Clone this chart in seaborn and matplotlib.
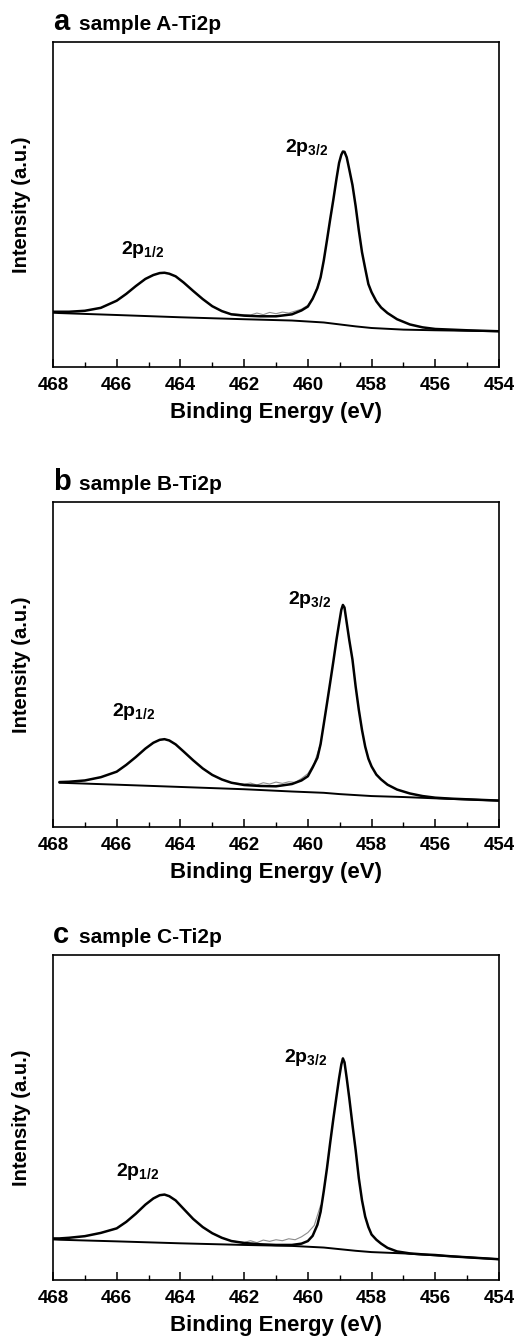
import numpy as np
import matplotlib
matplotlib.use('Agg')
import matplotlib.pyplot as plt
from matplotlib.ticker import MultipleLocator
import seaborn as sns

# --- values (intensity in % of axis height) ---
energy = [468.0, 467.8, 467.5, 467.0, 466.5, 466.0, 465.7, 465.4, 465.1, 464.85,
          464.65, 464.5, 464.35, 464.15, 463.9, 463.6, 463.3, 463.0, 462.7, 462.4,
          462.0, 461.5, 461.0, 460.5, 460.2, 460.0, 459.85, 459.7, 459.6, 459.5,
          459.4, 459.3, 459.2, 459.1, 459.02, 458.95, 458.9, 458.85, 458.78, 458.7,
          458.6, 458.5, 458.4, 458.3, 458.2, 458.1, 458.0, 457.85, 457.7, 457.5,
          457.2, 456.8, 456.4, 456.0, 455.5, 455.0, 454.5, 454.0]

fit_a = [17.0, 17.0, 17.0, 17.3, 18.2, 20.4, 22.5, 24.9, 27.1, 28.3,
         28.9, 29.0, 28.7, 27.9, 26.0, 23.4, 20.9, 18.7, 17.2, 16.2,
         15.8, 15.6, 15.6, 16.2, 17.4, 18.6, 21.0, 24.3, 27.6, 32.8,
         39.0, 45.4, 51.5, 58.0, 62.8, 65.3, 66.3, 66.2, 64.5, 60.8,
         56.0, 49.5, 42.0, 35.3, 30.3, 25.5, 23.0, 20.2, 18.3, 16.6,
         14.7, 13.1, 12.2, 11.7, 11.5, 11.3, 11.15, 11.0]

fit_b = [np.nan, 13.8, 13.9, 14.3, 15.3, 17.0, 19.1, 21.5, 24.1, 25.9,
         26.8, 27.0, 26.6, 25.4, 23.2, 20.5, 18.0, 16.0, 14.6, 13.6,
         12.9, 12.6, 12.5, 13.2, 14.3, 15.6, 18.3, 21.3, 25.5, 31.7,
         38.0, 44.4, 50.9, 57.7, 62.6, 66.8, 68.3, 67.5, 62.8, 57.5,
         51.5, 43.2, 36.0, 29.8, 24.7, 21.0, 18.6, 16.1, 14.6, 13.0,
         11.5, 10.3, 9.5, 9.0, 8.7, 8.5, 8.3, 8.1]

fit_c = [12.8, 12.8, 13.0, 13.5, 14.5, 15.9, 17.9, 20.4, 23.2, 25.1,
         26.1, 26.3, 25.8, 24.5, 21.9, 18.8, 16.3, 14.4, 13.0, 12.0,
         11.4, 11.0, 10.8, 10.8, 11.2, 12.0, 13.6, 17.0, 21.0, 27.4,
         34.4, 42.2, 49.6, 56.6, 62.1, 66.3, 68.2, 67.0, 62.1, 56.0,
         47.8, 40.0, 31.3, 24.5, 19.5, 16.3, 14.0, 12.4, 11.2, 9.9,
         8.8, 8.2, 7.9, 7.7, 7.3, 7.0, 6.7, 6.4]

bg_energy = [468.0, 467.8, 466.0, 464.0, 462.0, 460.5, 459.5, 459.0, 458.5, 458.0, 457.0, 456.0, 454.0]
bg_a = [16.7, 16.6, 16.0, 15.3, 14.7, 14.3, 13.7, 13.1, 12.5, 12.0, 11.5, 11.3, 11.0]
bg_b = [np.nan, 13.6, 13.0, 12.3, 11.6, 10.9, 10.5, 10.1, 9.8, 9.5, 9.2, 8.8, 8.1]
bg_c = [12.5, 12.4, 11.9, 11.3, 10.8, 10.5, 10.0, 9.5, 9.0, 8.6, 8.2, 7.6, 6.4]

# raw spectrum where it shows apart from the fit (valley between the peaks)
raw_energy = [462.4, 462.0, 461.8, 461.6, 461.4, 461.2, 461.0, 460.8, 460.6, 460.4, 460.2, 460.0, 459.8, 459.6]
raw_a = [16.4, 16.1, 16.0, 16.6, 16.1, 16.8, 16.4, 16.9, 16.6, 17.2, 17.8, 19.0, 22.0, 27.6]
raw_b = [13.6, 13.2, 13.5, 12.9, 13.6, 13.2, 13.8, 13.4, 13.9, 13.7, 14.9, 16.4, 19.6, 25.6]
raw_c = [12.0, 11.6, 12.1, 11.5, 12.3, 11.9, 12.4, 12.1, 12.7, 12.4, 13.3, 14.6, 16.8, 23.0]

letters = ['a', 'b', 'c']
titles = ['sample A-Ti2p', 'sample B-Ti2p', 'sample C-Ti2p']
x_ticks = [468, 466, 464, 462, 460, 458, 456, 454]

sns.set_style('white')
plt.rcParams['font.family'] = ['Liberation Sans', 'DejaVu Sans']
plt.rcParams['text.color'] = 'k'
plt.rcParams['axes.labelcolor'] = 'k'
plt.rcParams['xtick.color'] = 'k'
plt.rcParams['mathtext.fontset'] = 'custom'
plt.rcParams['mathtext.rm'] = 'Liberation Sans:bold'
plt.rcParams['mathtext.it'] = 'Liberation Sans:bold'
plt.rcParams['mathtext.bf'] = 'Liberation Sans:bold'

fig = plt.figure(figsize=(5.17, 13.37), dpi=100)

# panel layout: axes bottom, label positions (x in eV, y in %)
panels = [
    (0.7255, fit_a, bg_a, raw_a, (459.35, 67.5), (464.5, 36.0)),
    (0.3815, fit_b, bg_b, raw_b, (459.25, 70.0), (464.8, 35.5)),
    (0.0426, fit_c, bg_c, raw_c, (459.4, 68.5), (464.65, 33.4)),
]

for i, (bottom, fit, bg, raw, lab32, lab12) in enumerate(panels):
    ax = fig.add_axes([0.1025, bottom, 0.8627, 0.2431])

    sns.lineplot(x=raw_energy, y=raw, ax=ax, color='0.55', lw=0.8, estimator=None)
    sns.lineplot(x=bg_energy, y=bg, ax=ax, color='k', lw=1.4, estimator=None)
    sns.lineplot(x=energy, y=fit, ax=ax, color='k', lw=1.8, estimator=None)

    ax.set_xlim(468, 454)
    ax.set_ylim(0, 100)
    ax.set_xticks(x_ticks)
    ax.xaxis.set_minor_locator(MultipleLocator(1))
    ax.set_yticks([])
    ax.tick_params(axis='x', which='major', direction='in', length=6, width=1.1,
                   pad=7, labelsize=13.5, bottom=True)
    ax.tick_params(axis='x', which='minor', direction='in', length=3.5, width=1.0, bottom=True)
    for lbl in ax.get_xticklabels():
        lbl.set_fontweight('bold')
    for sp in ax.spines.values():
        sp.set_linewidth(1.2)
        sp.set_color('k')

    ax.set_xlabel('Binding Energy (eV)', fontsize=16, fontweight='bold')
    ax.xaxis.set_label_coords(0.5, -0.108)
    ax.set_ylabel('Intensity (a.u.)', fontsize=14.5, fontweight='bold')
    ax.yaxis.set_label_coords(-0.05, 0.5)

    ax.text(lab32[0], lab32[1], r'2p$_{3/2}$', ha='right', va='center',
            fontsize=14, fontweight='bold')
    ax.text(lab12[0], lab12[1], r'2p$_{1/2}$', ha='right', va='center',
            fontsize=14, fontweight='bold')

    ax.text(0.0, 1.037, letters[i], transform=ax.transAxes, ha='left', va='baseline',
            fontsize=21, fontweight='bold')
    ax.text(0.058, 1.037, titles[i], transform=ax.transAxes, ha='left', va='baseline',
            fontsize=15, fontweight='bold')

fig.savefig('out.png', dpi=100)
